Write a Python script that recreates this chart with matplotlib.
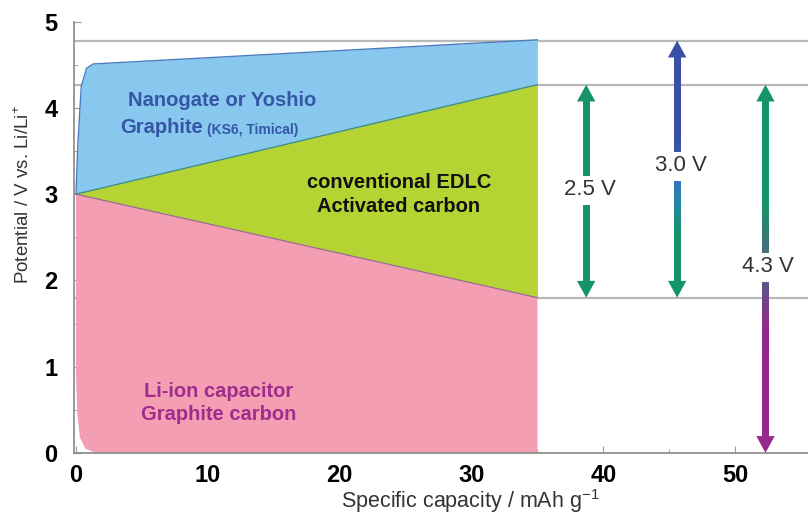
import numpy as np
import matplotlib
matplotlib.use("Agg")
import matplotlib.pyplot as plt
from matplotlib.collections import LineCollection

plt.rcParams["font.family"] = ["Liberation Sans", "DejaVu Sans"]
plt.rcParams["mathtext.fontset"] = "custom"
plt.rcParams["mathtext.rm"] = "Liberation Sans"

# region boundaries (capacity in mAh/g, potential in V)
cap_end = 35.0
blue_top_x = [0.0, 0.15, 0.4, 0.8, 1.3, 35.0]
blue_top_y = [3.0, 3.6, 4.25, 4.46, 4.51, 4.79]
edlc_top_x = [0.0, 35.0]
edlc_top_y = [3.0, 4.27]
edlc_bot_x = [0.0, 35.0]
edlc_bot_y = [3.0, 1.8]
pink_left_x = [0.0, 0.0, 0.1, 0.3, 0.7, 1.5]
pink_left_y = [3.0, 0.9, 0.45, 0.18, 0.05, 0.0]

# reference potential levels
levels = [4.78, 4.27, 1.80]

# voltage window arrows
arrow_x = [38.7, 45.6, 52.3]
arrow_lo = [1.80, 1.80, 0.0]
arrow_hi = [4.27, 4.78, 4.27]
arrow_text = ["2.5 V", "3.0 V", "4.3 V"]
arrow_text_x = [38.95, 45.9, 52.5]
arrow_text_y = [3.05, 3.33, 2.16]
# colour stops along each shaft, top to bottom (potential, colour)
arrow_stops = [
    [(4.27, "#15936a"), (1.80, "#15936a")],
    [(4.78, "#3a4fa8"), (3.60, "#3a4fa8"), (3.15, "#2f73c2"), (2.95, "#2a82b0"),
     (2.50, "#15936a"), (1.80, "#15936a")],
    [(4.27, "#15936a"), (2.85, "#15936a"), (2.35, "#44707a"), (1.95, "#5c5585"),
     (1.40, "#93288c"), (0.00, "#96288c")],
]

fig = plt.figure(figsize=(8.08, 5.17), dpi=100)
ax = fig.add_axes([0.0916, 0.124, 0.908, 0.834])

for y in levels:
    ax.axhline(y, color="#b8b8b8", lw=1.6, zorder=1)

# blue region: between blue top curve and EDLC top line
xb = np.linspace(0, cap_end, 400)
yb_top = np.interp(xb, blue_top_x, blue_top_y)
yb_bot = np.interp(xb, edlc_top_x, edlc_top_y)
ax.fill_between(xb, yb_bot, yb_top, color="#89c8ee", lw=0, zorder=2)
ax.plot(blue_top_x, blue_top_y, color="#4a7cc0", lw=1.0, zorder=3)

# EDLC triangle
ax.fill_between(edlc_top_x, edlc_bot_y, edlc_top_y, color="#b6d334", lw=0, zorder=2)
ax.plot(edlc_top_x, edlc_top_y, color="#3d8f7a", lw=1.0, zorder=3)

# Li-ion capacitor region
ax.fill(pink_left_x + [cap_end, cap_end], pink_left_y + [0.0, edlc_bot_y[1]],
        color="#f39eb2", lw=0, zorder=2)
ax.plot(edlc_bot_x, edlc_bot_y, color="#9a6a9a", lw=0.9, zorder=3)


def stop_color(stops, y):
    ys = [s[0] for s in stops][::-1]
    cols = np.array([matplotlib.colors.to_rgb(s[1]) for s in stops])[::-1]
    return np.array([np.interp(y, ys, cols[:, k]) for k in range(3)])


def shaft(x, y0, y1, stops, n=80):
    ys = np.linspace(y0, y1, n + 1)
    segs = [[(x, ys[i]), (x, ys[i + 1])] for i in range(n)]
    cols = [stop_color(stops, 0.5 * (ys[i] + ys[i + 1])) for i in range(n)]
    lc = LineCollection(segs, colors=cols, linewidths=5, capstyle="projecting", zorder=4)
    ax.add_collection(lc)


def head(x, tip, up, col):
    base = tip - 0.12 if up else tip + 0.12
    ax.annotate("", xy=(x, tip), xytext=(x, base),
                arrowprops=dict(arrowstyle="-|>,head_length=0.55,head_width=0.3",
                                color=col, lw=0, shrinkA=0, shrinkB=0, mutation_scale=22),
                zorder=5)


for i in range(len(arrow_x)):
    x = arrow_x[i]
    ty = arrow_text_y[i]
    gap = 0.21
    shaft(x, arrow_hi[i] - 0.17, ty + gap, arrow_stops[i])
    shaft(x, ty - gap, arrow_lo[i] + 0.17, arrow_stops[i])
    head(x, arrow_hi[i], True, stop_color(arrow_stops[i], arrow_hi[i]))
    head(x, arrow_lo[i], False, stop_color(arrow_stops[i], arrow_lo[i]))
    ax.text(arrow_text_x[i], ty, arrow_text[i], ha="center", va="center", fontsize=16,
            color="#333333", zorder=6)

# region labels
ax.text(11.1, 4.09, "Nanogate or Yoshio", ha="center", va="center",
        fontsize=14.5, fontweight="bold", color="#3556a6", zorder=6)
ax.text(9.65, 3.77, "Graphite", ha="right", va="center",
        fontsize=14.5, fontweight="bold", color="#3556a6", zorder=6)
ax.text(9.9, 3.75, "(KS6, Timical)", ha="left", va="center",
        fontsize=10, fontweight="bold", color="#3556a6", zorder=6)
ax.text(24.5, 3.13, "conventional EDLC", ha="center", va="center",
        fontsize=14.5, fontweight="bold", color="#111111", zorder=6)
ax.text(24.5, 2.86, "Activated carbon", ha="center", va="center",
        fontsize=14.5, fontweight="bold", color="#111111", zorder=6)
ax.text(10.8, 0.71, "Li-ion capacitor", ha="center", va="center",
        fontsize=14.5, fontweight="bold", color="#a02c8c", zorder=6)
ax.text(10.8, 0.45, "Graphite carbon", ha="center", va="center",
        fontsize=14.5, fontweight="bold", color="#a02c8c", zorder=6)

ax.set_xlim(-0.15, 55.5)
ax.set_ylim(0, 5.0)
ax.set_xticks([0, 10, 20, 30, 40, 50])
ax.set_yticks([0, 1, 2, 3, 4, 5])
ax.set_xticks(np.arange(5, 55, 10), minor=True)
ax.set_yticks(np.arange(0.5, 5, 1.0), minor=True)
ax.tick_params(which="both", direction="in", color="#999999")
ax.tick_params(which="major", length=5, labelsize=17)
ax.tick_params(axis="x", which="major", pad=8)
ax.tick_params(axis="y", which="major", pad=12)
ax.tick_params(which="minor", length=3)
for lab in ax.get_xticklabels() + ax.get_yticklabels():
    lab.set_fontweight("bold")
for s in ["top", "right"]:
    ax.spines[s].set_visible(False)
for s in ["left", "bottom"]:
    ax.spines[s].set_color("#888888")
    ax.spines[s].set_linewidth(1.2)

ax.set_xlabel("Specific capacity / mAh g$^{-1}$", fontsize=15.5, color="#333333")
ax.set_ylabel("Potential / V vs. Li/Li$^{+}$", fontsize=13.5, color="#333333")
ax.xaxis.set_label_coords(0.54, -0.08)
ax.yaxis.set_label_coords(-0.056, 0.60)

fig.savefig("out.png", dpi=100)
